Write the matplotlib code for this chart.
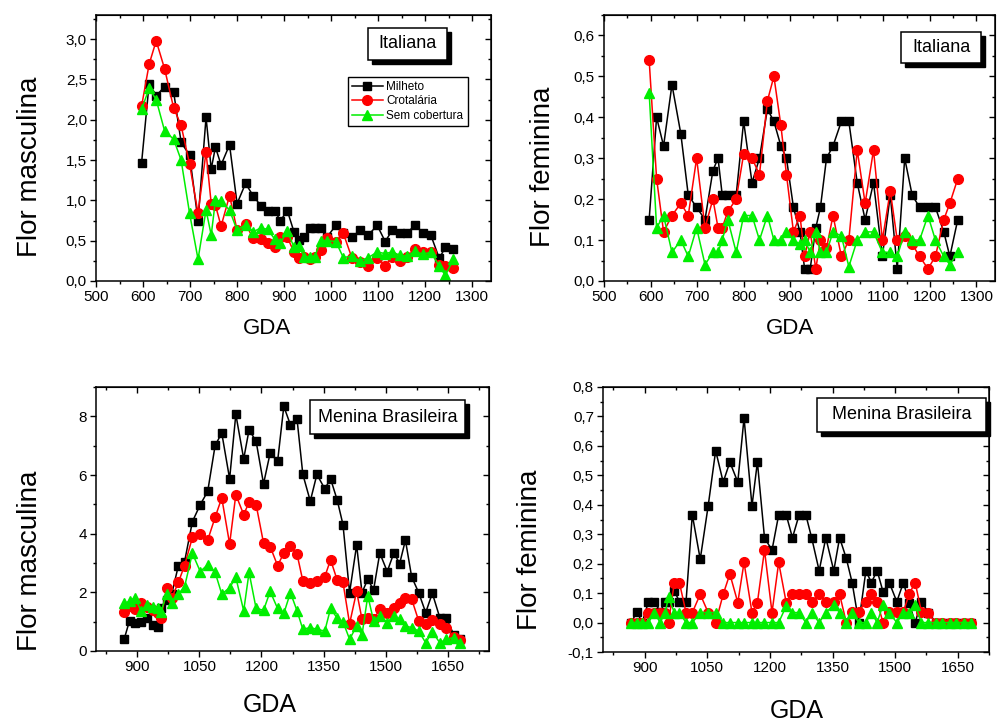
import matplotlib
matplotlib.use("Agg")
import matplotlib.pyplot as plt
from matplotlib.patches import Rectangle
from matplotlib.ticker import MultipleLocator, FuncFormatter

plt.rcParams['font.family'] = ['Liberation Sans', 'DejaVu Sans']

series_names = ["Milheto", "Crotalária", "Sem cobertura"]

# ---- Italiana (top panels) ----
gda_it = [597, 613, 628, 646, 665, 681, 699, 717, 734, 745, 754, 766, 784, 800, 818, 834,
          851, 865, 880, 892, 907, 921, 931, 943, 955, 965, 978, 992, 1010, 1026, 1044, 1061,
          1079, 1098, 1115, 1130, 1146, 1162, 1178, 1196, 1212, 1230, 1243, 1260]

masc_it_milheto = [1.47, 2.45, 2.30, 2.41, 2.35, 1.72, 1.56, 0.75, 2.03, 1.39, 1.66, 1.44, 1.69, 0.96,
                   1.21, 1.06, 0.93, 0.87, 0.87, 0.75, 0.87, 0.61, 0.51, 0.54, 0.66, 0.66, 0.66, 0.55,
                   0.69, 0.60, 0.54, 0.63, 0.57, 0.69, 0.49, 0.63, 0.60, 0.60, 0.69, 0.60, 0.57, 0.28,
                   0.42, 0.40]
masc_it_crotalaria = [2.17, 2.69, 2.98, 2.63, 2.15, 1.93, 1.45, 0.84, 1.60, 0.96, 0.94, 0.68, 1.06, 0.63,
                      0.71, 0.53, 0.52, 0.47, 0.42, 0.55, 0.54, 0.36, 0.29, 0.30, 0.27, 0.30, 0.39, 0.53,
                      0.49, 0.59, 0.29, 0.24, 0.19, 0.29, 0.19, 0.30, 0.25, 0.30, 0.40, 0.36, 0.36, 0.20,
                      0.19, 0.16]
masc_it_sem = [2.13, 2.39, 2.25, 1.86, 1.76, 1.50, 0.84, 0.27, 0.88, 0.57, 1.00, 0.99, 0.88, 0.63,
               0.70, 0.61, 0.66, 0.64, 0.52, 0.47, 0.62, 0.42, 0.44, 0.30, 0.30, 0.30, 0.50, 0.50,
               0.49, 0.29, 0.31, 0.25, 0.29, 0.36, 0.34, 0.36, 0.32, 0.31, 0.37, 0.33, 0.36, 0.18,
               0.07, 0.27]

fem_it_milheto = [0.15, 0.40, 0.33, 0.48, 0.36, 0.21, 0.18, 0.15, 0.27, 0.30, 0.21, 0.21, 0.21, 0.39,
                  0.24, 0.30, 0.42, 0.39, 0.33, 0.30, 0.18, 0.12, 0.03, 0.03, 0.13, 0.18, 0.30, 0.33,
                  0.39, 0.39, 0.24, 0.15, 0.24, 0.06, 0.21, 0.03, 0.30, 0.21, 0.18, 0.18, 0.18, 0.12,
                  0.06, 0.15]
fem_it_crotalaria = [0.54, 0.25, 0.12, 0.16, 0.19, 0.16, 0.30, 0.13, 0.20, 0.13, 0.13, 0.17, 0.20, 0.31,
                     0.30, 0.26, 0.44, 0.50, 0.38, 0.26, 0.12, 0.16, 0.06, 0.12, 0.03, 0.10, 0.08, 0.16,
                     0.06, 0.10, 0.32, 0.19, 0.32, 0.10, 0.22, 0.10, 0.11, 0.09, 0.06, 0.03, 0.06, 0.15,
                     0.19, 0.25]
fem_it_sem = [0.46, 0.13, 0.16, 0.07, 0.10, 0.06, 0.13, 0.04, 0.07, 0.07, 0.10, 0.15, 0.07, 0.16,
              0.16, 0.10, 0.16, 0.10, 0.10, 0.12, 0.10, 0.09, 0.10, 0.07, 0.12, 0.07, 0.07, 0.12,
              0.11, 0.035, 0.10, 0.12, 0.12, 0.07, 0.07, 0.06, 0.12, 0.10, 0.10, 0.16, 0.10, 0.06,
              0.04, 0.07]

# ---- Menina Brasileira (bottom panels) ----
gda_mb = [868, 881, 894, 909, 923, 937, 949, 957, 971, 983, 999, 1014, 1033, 1052, 1070, 1088,
          1104, 1123, 1138, 1157, 1170, 1187, 1205, 1221, 1239, 1254, 1270, 1286, 1300, 1318,
          1334, 1353, 1367, 1383, 1397, 1413, 1430, 1443, 1457, 1471, 1486, 1504, 1520, 1534,
          1548, 1563, 1580, 1597, 1613, 1631, 1647, 1665, 1681]

masc_mb_milheto = [0.40, 1.03, 0.95, 1.00, 1.12, 0.88, 0.83, 1.48, 1.73, 1.94, 2.90, 3.04, 4.41, 4.99,
                   5.44, 7.01, 7.43, 5.87, 8.07, 6.55, 7.54, 7.15, 5.70, 6.75, 6.47, 8.34, 7.71, 7.90,
                   6.02, 5.11, 6.02, 5.53, 5.87, 5.15, 4.31, 1.99, 3.61, 1.99, 2.45, 2.08, 3.34, 2.71,
                   3.34, 2.98, 3.78, 2.53, 1.99, 1.31, 1.97, 1.14, 1.12, 0.55, 0.40]
masc_mb_crotalaria = [1.34, 1.55, 1.42, 1.63, 1.50, 1.40, 1.28, 1.14, 2.14, 1.80, 2.34, 2.91, 3.87, 3.99,
                      3.78, 4.56, 5.22, 3.65, 5.33, 4.65, 5.07, 4.99, 3.68, 3.56, 2.91, 3.34, 3.57, 3.30,
                      2.39, 2.31, 2.39, 2.53, 3.11, 2.42, 2.34, 0.93, 2.03, 1.08, 1.12, 1.08, 1.42, 1.31,
                      1.45, 1.65, 1.80, 1.77, 1.03, 0.91, 1.05, 0.91, 0.80, 0.48, 0.38]
masc_mb_sem = [1.62, 1.69, 1.82, 1.37, 1.57, 1.50, 1.48, 1.34, 1.94, 1.62, 1.94, 2.19, 3.33, 2.71,
               2.94, 2.68, 1.94, 2.16, 2.51, 1.37, 2.68, 1.45, 1.39, 2.03, 1.45, 1.28, 1.99, 1.37,
               0.74, 0.80, 0.74, 0.68, 1.45, 1.12, 1.00, 0.40, 0.85, 0.55, 1.88, 1.03, 1.20, 0.97,
               1.20, 1.08, 0.85, 0.80, 0.68, 0.28, 0.66, 0.28, 0.40, 0.46, 0.28]

fem_mb_milheto = [0.0, 0.037, 0.0, 0.071, 0.071, 0.037, 0.071, 0.071, 0.108, 0.071, 0.071, 0.366, 0.215,
                  0.396, 0.584, 0.477, 0.545, 0.477, 0.695, 0.396, 0.545, 0.288, 0.246, 0.366, 0.366,
                  0.288, 0.366, 0.366, 0.288, 0.176, 0.288, 0.176, 0.288, 0.218, 0.136, 0.0, 0.176,
                  0.136, 0.176, 0.105, 0.136, 0.071, 0.136, 0.065, 0.0, 0.071, 0.034, 0.0, 0.0, 0.0,
                  0.0, 0.0, 0.0]
fem_mb_crotalaria = [0.0, 0.0, 0.0, 0.034, 0.034, 0.034, 0.034, 0.0, 0.136, 0.136, 0.034, 0.034, 0.096,
                     0.034, 0.0, 0.096, 0.165, 0.068, 0.204, 0.034, 0.068, 0.246, 0.034, 0.204, 0.068,
                     0.096, 0.096, 0.096, 0.071, 0.096, 0.071, 0.071, 0.096, 0.0, 0.037, 0.037, 0.071,
                     0.098, 0.071, 0.0, 0.037, 0.037, 0.037, 0.098, 0.136, 0.037, 0.031, 0.0, 0.0, 0.0,
                     0.0, 0.0, 0.0]
fem_mb_sem = [0.0, 0.0, 0.0, 0.0, 0.034, 0.0, 0.034, 0.086, 0.034, 0.034, 0.0, 0.0, 0.034, 0.034,
              0.034, 0.0, 0.0, 0.0, 0.0, 0.0, 0.0, 0.0, 0.0, 0.0, 0.056, 0.034, 0.034, 0.0, 0.034,
              0.0, 0.034, 0.06, 0.034, 0.0, 0.034, 0.0, 0.0, 0.034, 0.0, 0.06, 0.034, 0.0, 0.034,
              0.034, 0.06, 0.0, 0.0, 0.0, 0.0, 0.0, 0.0, 0.0, 0.0]

W, H = 997, 722
fig = plt.figure(figsize=(W / 100, H / 100), dpi=100)


def px_axes(l, t, r, b):
    return fig.add_axes([l / W, 1 - b / H, (r - l) / W, (b - t) / H])


colors = ["#000000", "#ff0000", "#00ee00"]
markers = ["s", "o", "^"]
msizes = [6.3, 7.0, 7.8]


def draw(ax, x, ys):
    for y, c, m, ms, name in zip(ys, colors, markers, msizes, series_names):
        ax.plot(x, y, color=c, marker=m, markersize=ms, markeredgecolor=c,
                markerfacecolor=c, linewidth=1.1, label=name, clip_on=False)


def comma_fmt(dec):
    def f(v, p):
        s = f"{v:.{dec}f}"
        if s.startswith("-") and float(s) == 0:
            s = s[1:]
        return s.replace(".", ",")
    return FuncFormatter(f)


def style(ax, xmaj, xmin, ymaj, ymin, ydec):
    ax.xaxis.set_major_locator(MultipleLocator(xmaj))
    ax.xaxis.set_minor_locator(MultipleLocator(xmin))
    ax.yaxis.set_major_locator(MultipleLocator(ymaj))
    ax.yaxis.set_minor_locator(MultipleLocator(ymin))
    if ydec is None:
        ax.yaxis.set_major_formatter(FuncFormatter(lambda v, p: f"{v:.0f}"))
    else:
        ax.yaxis.set_major_formatter(comma_fmt(ydec))
    ax.tick_params(which="both", direction="out", top=False, right=False,
                   labelsize=11, width=1.0, colors="black")
    ax.tick_params(which="major", length=4.5, pad=2)
    ax.tick_params(which="minor", length=2.5)
    for s in ax.spines.values():
        s.set_linewidth(1.1)
    # mirrored inward ticks on top/right
    sx = ax.secondary_xaxis("top")
    sx.xaxis.set_major_locator(MultipleLocator(xmaj))
    sx.xaxis.set_minor_locator(MultipleLocator(xmin))
    sx.tick_params(which="both", direction="in", labeltop=False, width=1.0)
    sx.tick_params(which="major", length=4.5)
    sx.tick_params(which="minor", length=2.5)
    sy = ax.secondary_yaxis("right")
    sy.yaxis.set_major_locator(MultipleLocator(ymaj))
    sy.yaxis.set_minor_locator(MultipleLocator(ymin))
    sy.tick_params(which="both", direction="in", labelright=False, width=1.0)
    sy.tick_params(which="major", length=4.5)
    sy.tick_params(which="minor", length=2.5)


def label_box(l, t, r, b, text):
    off = 4
    fig.add_artist(Rectangle(((l + off) / W, 1 - (b + off) / H), (r - l) / W, (b - t) / H,
                             transform=fig.transFigure, facecolor="black", edgecolor="black",
                             zorder=20))
    fig.add_artist(Rectangle((l / W, 1 - b / H), (r - l) / W, (b - t) / H,
                             transform=fig.transFigure, facecolor="white", edgecolor="black",
                             linewidth=1.1, zorder=21))
    fig.text((l + r) / 2 / W, 1 - (t + b) / 2 / H, text, ha="center", va="center",
             fontsize=13, zorder=22)


# Panel 1
ax1 = px_axes(96, 15, 491, 281)
draw(ax1, gda_it, [masc_it_milheto, masc_it_crotalaria, masc_it_sem])
ax1.set_xlim(500, 1340)
ax1.set_ylim(0, 3.3)
style(ax1, 100, 50, 0.5, 0.25, 1)
leg = ax1.legend(loc="upper left", bbox_to_anchor=(348 / W, 1 - 77 / H),
                 bbox_transform=fig.transFigure, fancybox=False, edgecolor="black",
                 framealpha=1, fontsize=8.5, handlelength=2.6, borderpad=0.35,
                 labelspacing=0.2, handletextpad=0.3, borderaxespad=0)
leg.get_frame().set_linewidth(1.0)
leg.set_zorder(30)

# Panel 2
ax2 = px_axes(604, 15, 995, 281)
draw(ax2, gda_it, [fem_it_milheto, fem_it_crotalaria, fem_it_sem])
ax2.set_xlim(500, 1340)
ax2.set_ylim(0, 0.65)
style(ax2, 100, 50, 0.1, 0.05, 1)

# Panel 3
ax3 = px_axes(96, 387, 489, 651)
draw(ax3, gda_mb, [masc_mb_milheto, masc_mb_crotalaria, masc_mb_sem])
ax3.set_xlim(800, 1750)
ax3.set_ylim(0, 9)
style(ax3, 150, 75, 2, 1, None)

# Panel 4
ax4 = px_axes(603, 387, 989, 652)
draw(ax4, gda_mb, [fem_mb_milheto, fem_mb_crotalaria, fem_mb_sem])
ax4.set_xlim(800, 1725)
ax4.set_ylim(-0.1, 0.8)
style(ax4, 150, 75, 0.1, 0.05, 1)

# Axis titles
fig.text(30 / W, 1 - 167 / H, "Flor masculina", rotation=90, ha="center", va="center", fontsize=20)
fig.text(543 / W, 1 - 167 / H, "Flor feminina", rotation=90, ha="center", va="center", fontsize=20)
fig.text(30 / W, 1 - 561 / H, "Flor masculina", rotation=90, ha="center", va="center", fontsize=20)
fig.text(530 / W, 1 - 550 / H, "Flor feminina", rotation=90, ha="center", va="center", fontsize=20)
fig.text(267 / W, 1 - 328 / H, "GDA", ha="center", va="center", fontsize=16)
fig.text(790 / W, 1 - 328 / H, "GDA", ha="center", va="center", fontsize=16)
fig.text(270 / W, 1 - 705 / H, "GDA", ha="center", va="center", fontsize=18)
fig.text(797 / W, 1 - 711 / H, "GDA", ha="center", va="center", fontsize=18)

label_box(368, 28, 447, 60, "Italiana")
label_box(901, 32, 981, 63, "Italiana")
label_box(310, 400, 465, 434, "Menina Brasileira")
label_box(817, 398, 986, 432, "Menina Brasileira")

fig.savefig("out.png", dpi=100)
